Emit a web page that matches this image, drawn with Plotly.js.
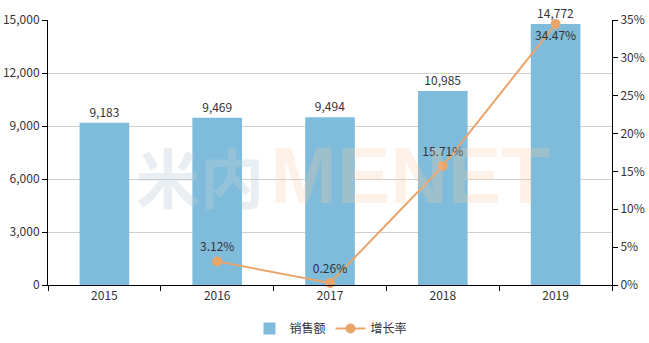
<!DOCTYPE html>
<html><head><meta charset="utf-8">
<script src="https://cdn.plot.ly/plotly-3.0.1.min.js"></script>
<style>html,body{margin:0;padding:0;background:#fff}#c{width:649px;height:343px}</style>
</head><body><div id="c"></div>
<script>
const years = ['2015','2016','2017','2018','2019'];
const sales = [9183, 9469, 9494, 10985, 14772];
const growth = [null, 3.12, 0.26, 15.71, 34.47];
const growthPos = ['top center','top center','top center','top center','bottom center'];
const salesName = '销售额';
const growthName = '增长率';
const leftTicks = [0, 3000, 6000, 9000, 12000, 15000];
const rightTicks = [0, 5, 10, 15, 20, 25, 30, 35];

const fontFam = '"Noto Sans CJK SC", "Noto Sans", sans-serif';
const traces = [
  {type:'bar', x:years, y:sales, name:salesName,
   marker:{color:'#7fbcdb'},
   text:sales.map(v=>v.toLocaleString('en-US')), textposition:'outside',
   textfont:{size:12,color:'#333'}, cliponaxis:false},
  {type:'scatter', mode:'lines+markers+text', x:years, y:growth, name:growthName, yaxis:'y2',
   line:{color:'#eaa56b', width:2}, marker:{color:'#eaa56b', size:10},
   text:growth.map(v=>v==null?'':v.toFixed(2)+'%'), textposition:growthPos,
   textfont:{size:12,color:'#333'}, cliponaxis:false, connectgaps:false}
];
const layout = {
  width:649, height:343,
  margin:{l:48, r:37, t:20, b:58, autoexpand:false},
  paper_bgcolor:'#fff', plot_bgcolor:'#fff',
  font:{family:fontFam, size:12, color:'#333'},
  bargap:0.56,
  showlegend:true,
  legend:{orientation:'h', x:0.51, xanchor:'center', xref:'container', y:-0.01, yanchor:'bottom', yref:'container',
          font:{size:12,color:'#333'}},
  xaxis:{type:'category', showline:true, linecolor:'#000', linewidth:1, ticks:'outside', tickson:'boundaries',
         ticklen:5, tickcolor:'#000', showgrid:false, zeroline:false, tickfont:{size:12,color:'#333'}},
  yaxis:{range:[0,15000], tickmode:'array', tickvals:leftTicks, ticktext:leftTicks.map(v=>v.toLocaleString('en-US')),
         showline:true, linecolor:'#000',
         ticks:'outside', ticklen:5, tickcolor:'#000', showgrid:true, gridcolor:'#cfcfcf', zeroline:false,
         tickfont:{size:12,color:'#333'}},
  yaxis2:{overlaying:'y', side:'right', range:[0,35], tickmode:'array', tickvals:rightTicks, ticktext:rightTicks.map(v=>v+'%'),
          showline:true, linecolor:'#000', ticks:'outside', ticklen:5, tickcolor:'#000', showgrid:false, zeroline:false,
          tickfont:{size:12,color:'#333'}},
  annotations:[
    {xref:'paper', yref:'paper', x:0.152, y:0.415, text:'<b>米内</b>', showarrow:false, xanchor:'left', yanchor:'middle',
     font:{size:64, color:'rgba(190,205,215,0.35)', family:fontFam}},
    {xref:'paper', yref:'paper', x:0.39, y:0.415, text:'<b>MENET</b>', showarrow:false, xanchor:'left', yanchor:'middle',
     font:{size:80, color:'rgba(250,200,160,0.25)', family:'"Liberation Sans", Arial, sans-serif'}}
  ]
};
Plotly.newPlot('c', traces, layout, {displayModeBar:false, staticPlot:true});
</script></body></html>
